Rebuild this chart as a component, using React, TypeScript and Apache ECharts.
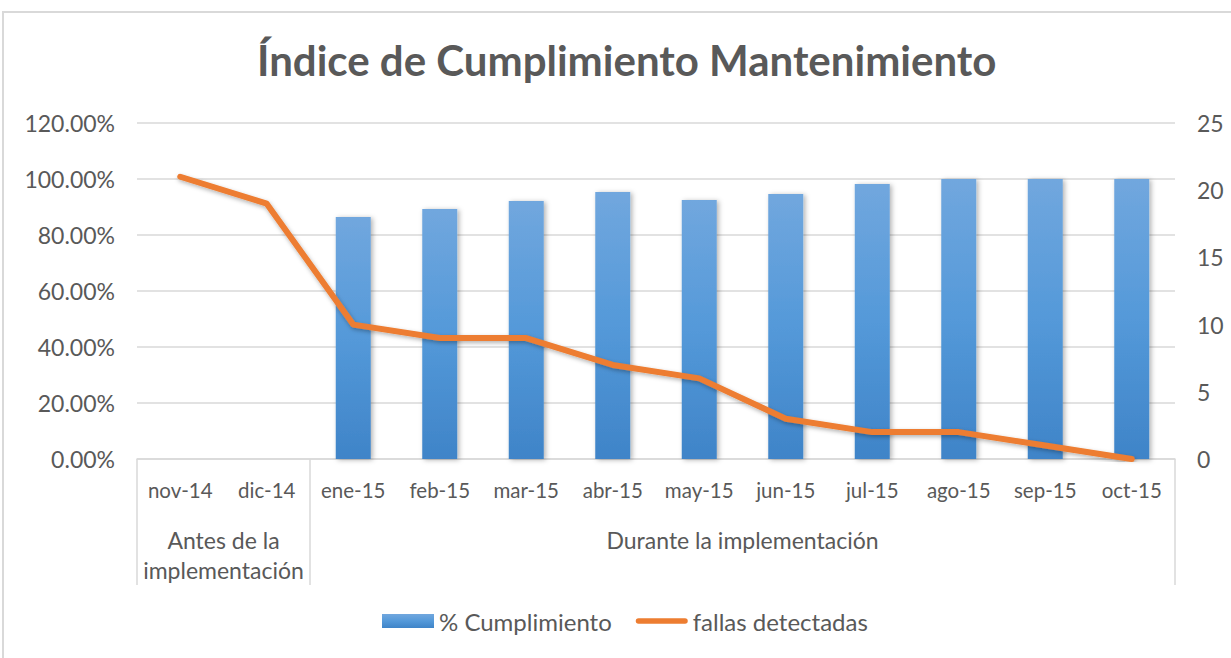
import React, { useEffect, useRef } from "react";
import * as echarts from "echarts";

const categories = ["nov-14", "dic-14", "ene-15", "feb-15", "mar-15", "abr-15", "may-15", "jun-15", "jul-15", "ago-15", "sep-15", "oct-15"];
const cumplimiento = [null, null, 0.864, 0.893, 0.921, 0.954, 0.925, 0.946, 0.982, 1.0, 1.0, 1.0];
const fallas = [21, 19, 10, 9, 9, 7, 6, 3, 2, 2, 1, 0];
const groupLabels = ["Antes de la\nimplementación", "Durante la implementación"];
const groupCenters = [1, 7];
const groupBounds = [0, 2, 12];

const FONT = "Lato, 'Open Sans', sans-serif";
const GRAY = "#595959";
const LINE = "#d9d9d9";

const lineIcon = "path://M0,0 M56,14 M3,4 L53,4 A3,3 0 0 1 53,10 L3,10 A3,3 0 0 1 3,4 Z";

export default function App() {
  const ref = useRef<HTMLDivElement>(null);
  useEffect(() => {
    const chart = echarts.init(ref.current!, null, { renderer: "svg" });
    chart.setOption({
      animation: false,
      backgroundColor: "#ffffff",
      textStyle: { fontFamily: FONT },
      title: {
        text: "Índice de Cumplimiento Mantenimiento",
        left: 252,
        top: 34,
        textStyle: { fontFamily: FONT, fontSize: 42, fontWeight: "bold", color: GRAY },
      },
      graphic: [
        {
          type: "rect",
          shape: { x: 3, y: 12, width: 1240, height: 660 },
          style: { fill: "none", stroke: LINE, lineWidth: 2 },
          silent: true,
        },
      ],
      legend: {
        bottom: 20,
        left: 377,
        itemGap: 24,
        itemWidth: 52,
        itemHeight: 14,
        textStyle: { fontFamily: FONT, fontSize: 24, color: GRAY },
        data: [
          { name: "% Cumplimiento", icon: "rect" },
          { name: "fallas detectadas", icon: lineIcon, itemStyle: { color: "#ED7D31" } },
        ],
      },
      grid: { left: 137, right: 56, top: 123, bottom: 199 },
      xAxis: [
        {
          type: "category",
          data: categories,
          position: "bottom",
          offset: 0,
          axisLine: { show: true, lineStyle: { color: LINE, width: 1.5 } },
          axisTick: { show: false },
          axisLabel: { interval: 0, fontFamily: FONT, fontSize: 20.5, color: GRAY, margin: 20 },
        },
        {
          type: "value",
          min: 0,
          max: 12,
          position: "bottom",
          offset: 0,
          axisLine: { show: false },
          splitLine: { show: false },
          axisTick: {
            show: true,
            customValues: groupBounds,
            length: 126,
            lineStyle: { color: LINE, width: 1.5 },
          },
          axisLabel: {
            customValues: groupCenters,
            fontFamily: FONT,
            fontSize: 23,
            color: GRAY,
            margin: 66,
            lineHeight: 30,
            formatter: (v: number) => {
              const i = groupCenters.indexOf(v);
              return i >= 0 ? groupLabels[i] : "";
            },
          },
        },
      ],
      yAxis: [
        {
          type: "value",
          min: 0,
          max: 1.2,
          interval: 0.2,
          axisLine: { show: false },
          axisTick: { show: false },
          splitLine: { lineStyle: { color: LINE, width: 1.5 } },
          axisLabel: {
            fontFamily: FONT,
            fontSize: 23,
            color: GRAY,
            margin: 22,
            formatter: (v: number) => (v * 100).toFixed(2) + "%",
          },
        },
        {
          type: "value",
          min: 0,
          max: 25,
          interval: 5,
          position: "right",
          axisLine: { show: false },
          axisTick: { show: false },
          splitLine: { show: false },
          axisLabel: { fontFamily: FONT, fontSize: 23, color: GRAY, margin: 22 },
        },
      ],
      series: [
        {
          name: "% Cumplimiento",
          type: "bar",
          xAxisIndex: 0,
          yAxisIndex: 0,
          data: cumplimiento,
          barWidth: 35,
          itemStyle: {
            color: new echarts.graphic.LinearGradient(0, 0, 0, 1, [
              { offset: 0, color: "#71a7de" },
              { offset: 0.5, color: "#5499d9" },
              { offset: 1, color: "#3f84c8" },
            ]),
            shadowBlur: 5,
            shadowColor: "rgba(0,0,0,0.3)",
            shadowOffsetX: 2,
            shadowOffsetY: 1,
          },
        },
        {
          name: "fallas detectadas",
          type: "line",
          xAxisIndex: 0,
          yAxisIndex: 1,
          data: fallas,
          symbol: "none",
          color: "#ED7D31",
          lineStyle: {
            color: "#ED7D31",
            width: 6,
            cap: "round",
            join: "round",
            shadowBlur: 4,
            shadowColor: "rgba(0,0,0,0.3)",
            shadowOffsetX: 1,
            shadowOffsetY: 2,
          },
        },
      ],
    });
    return () => chart.dispose();
  }, []);
  return (
    <div
      ref={ref}
      style={{ position: "fixed", left: 0, top: 0, width: 1231, height: 658 }}
    />
  );
}
